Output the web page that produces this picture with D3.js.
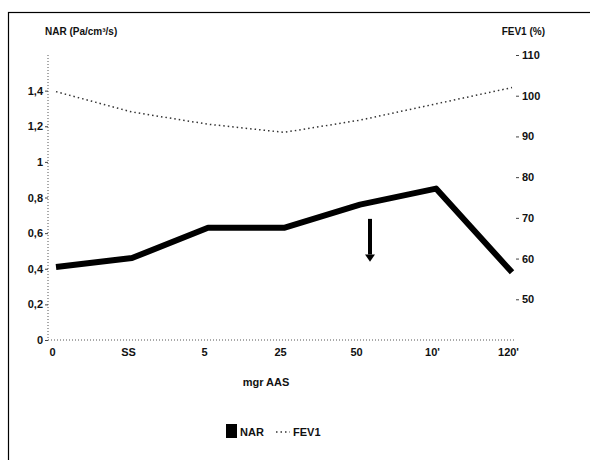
<!DOCTYPE html>
<html><head><meta charset="utf-8">
<script src="https://cdn.jsdelivr.net/npm/d3@7"></script>
<style>
body{margin:0;background:#fff;}
text{font-family:"Liberation Sans",Arial,sans-serif;}
</style></head>
<body><svg id="c" width="590" height="460"></svg>
<script>
const categories = ["0","SS","5","25","50","10'","120'"];
const narValues = [0.41, 0.46, 0.63, 0.63, 0.76, 0.85, 0.38];
const fevValues = [101, 96, 93, 91, 94, 98, 102];
const leftTicks = [0,0.2,0.4,0.6,0.8,1,1.2,1.4];
const leftTickLabels = ["0","0,2","0,4","0,6","0,8","1","1,2","1,4"];
const rightTicks = [50,60,70,80,90,100,110];
const xTitle = "mgr AAS";
const leftTitle = "NAR (Pa/cm³/s)";
const rightTitle = "FEV1 (%)";
const seriesNames = ["NAR","FEV1"];

(function(){
const svg = d3.select("#c");
svg.append("rect").attr("x",8.5).attr("y",12.5).attr("width",700).attr("height",600)
  .attr("fill","none").attr("stroke","#000").attr("stroke-width",1.2);

const pTop=55, pBottom=340, pLeft=48, pRight=516;
const x = d3.scalePoint().domain(categories).range([56,512]);
const yL = d3.scaleLinear().domain([0,1.6]).range([pBottom,pTop]);
const yR = d3.scaleLinear().domain([40,110]).range([pBottom,pTop]);

svg.append("line").attr("x1",pLeft).attr("x2",pLeft).attr("y1",pTop).attr("y2",pBottom)
  .attr("stroke","#555").attr("stroke-dasharray","1,2");
svg.append("line").attr("x1",pLeft).attr("x2",pRight).attr("y1",pBottom).attr("y2",pBottom)
  .attr("stroke","#555").attr("stroke-dasharray","1,2");

const lab = {"font-size":"11px","font-weight":"bold","fill":"#111"};
function style(sel){Object.entries(lab).forEach(([k,v])=>sel.style(k,v));return sel;}

const gl = svg.append("g").attr("transform",`translate(${pLeft},0)`)
  .call(d3.axisLeft(yL).tickValues(leftTicks).tickFormat((d,i)=>leftTickLabels[i]).tickSize(3));
gl.select(".domain").remove();
gl.selectAll("line").attr("stroke","#444");
style(gl.selectAll("text")).attr("x",-5);

const gr = svg.append("g").attr("transform",`translate(${pRight},0)`)
  .call(d3.axisRight(yR).tickValues(rightTicks).tickFormat(d3.format("d")).tickSize(3));
gr.select(".domain").remove();
gr.selectAll("line").attr("stroke","#444");
style(gr.selectAll("text")).attr("x",6);

const gb = svg.append("g").attr("transform",`translate(0,${pBottom})`)
  .call(d3.axisBottom(x).tickSize(0));
gb.select(".domain").remove();
style(gb.selectAll("text")).attr("dx",-4).attr("y",8);

style(svg.append("text").attr("x",45).attr("y",35).text(leftTitle)).style("font-size","10px");
style(svg.append("text").attr("x",545).attr("y",35).attr("text-anchor","end").text(rightTitle)).style("font-size","10px");
style(svg.append("text").attr("x",266).attr("y",386).attr("text-anchor","middle").text(xTitle)).style("font-size","11px");

svg.append("path").datum(fevValues)
  .attr("d",d3.line().x((d,i)=>x(categories[i])).y(d=>yR(d)))
  .attr("fill","none").attr("stroke","#333").attr("stroke-width",1.5).attr("stroke-dasharray","1.5,3");

svg.append("path").datum(narValues)
  .attr("d",d3.line().x((d,i)=>x(categories[i])).y(d=>yL(d)))
  .attr("fill","none").attr("stroke","#000").attr("stroke-width",6).attr("stroke-linejoin","round");

const ax = (x("50")+x("10'"))/2 - 28;
svg.append("line").attr("x1",ax).attr("x2",ax).attr("y1",yL(0.68)).attr("y2",yL(0.48))
  .attr("stroke","#000").attr("stroke-width",4);
svg.append("path").attr("d",`M${ax-5},${yL(0.48)} L${ax+5},${yL(0.48)} L${ax},${yL(0.44)} Z`).attr("fill","#000");

const lg = svg.append("g").attr("transform","translate(226,424)");
lg.append("rect").attr("x",0).attr("y",0).attr("width",11).attr("height",14).attr("fill","#000");
style(lg.append("text").attr("x",14).attr("y",12).text(seriesNames[0]));
lg.append("line").attr("x1",50).attr("x2",64).attr("y1",8).attr("y2",8)
  .attr("stroke","#333").attr("stroke-width",1.5).attr("stroke-dasharray","1.5,3");
style(lg.append("text").attr("x",67).attr("y",12).text(seriesNames[1]));
})();
</script></body></html>
